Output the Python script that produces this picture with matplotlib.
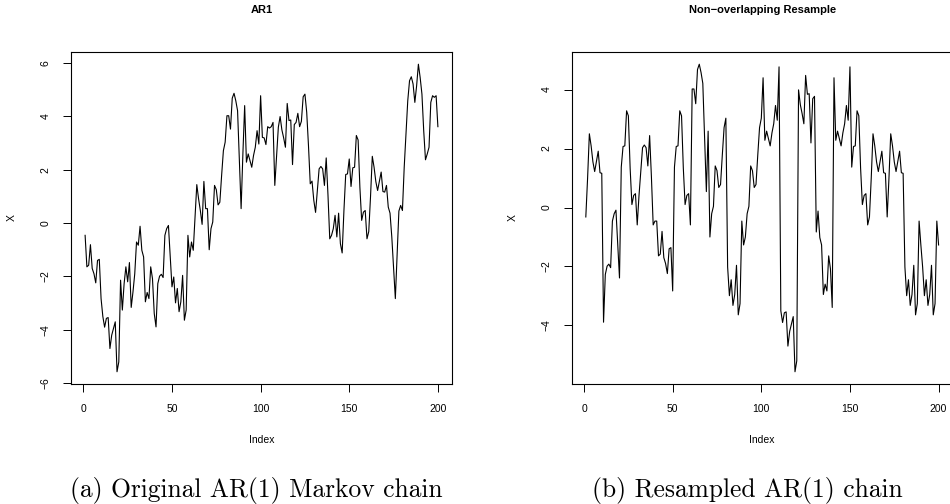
import numpy as np
import matplotlib
matplotlib.use("Agg")
import matplotlib.pyplot as plt

# AR(1) chain
ar1 = [
    -0.46, -1.64, -1.58, -0.81, -1.70, -1.90, -2.24, -1.40, -1.36, -2.83,
    -3.50, -3.90, -3.57, -3.54, -4.70, -4.20, -3.95, -3.70, -5.57, -5.20,
    -2.14, -3.26, -2.27, -1.64, -2.20, -1.48, -3.16, -2.58, -1.90, -0.71,
    -0.83, -0.12, -1.02, -1.27, -2.95, -2.60, -2.83, -1.64, -2.08, -3.39,
    -3.89, -2.27, -1.99, -1.92, -2.04, -0.46, -0.21, -0.09, -1.27, -2.39,
    -2.02, -2.99, -2.45, -3.32, -2.95, -1.96, -3.64, -3.26, -0.46, -1.27,
    -0.71, -1.02, 0.22, 1.44, 0.91, 0.47, -0.05, 1.56, 0.54, 0.54,
    -1.00, -0.21, 0.04, 1.41, 1.25, 0.68, 0.78, 1.78, 2.71, 3.03,
    4.02, 4.02, 3.52, 4.68, 4.86, 4.58, 4.21, 2.34, 0.54, 2.59,
    4.40, 2.28, 2.59, 2.34, 2.09, 2.53, 2.84, 3.46, 2.96, 4.77,
    3.21, 3.19, 2.94, 3.61, 3.56, 3.61, 3.77, 1.41, 2.53, 3.59,
    3.99, 3.49, 3.19, 2.84, 4.48, 3.84, 3.86, 2.19, 3.69, 3.77,
    4.11, 3.61, 3.81, 4.73, 4.83, 4.15, 2.90, 1.47, 1.57, 0.85,
    0.40, 1.22, 2.03, 2.12, 2.03, 1.41, 2.44, 1.05, -0.59, -0.46,
    -0.21, 0.29, -0.52, 0.37, -0.77, -1.12, 0.47, 1.82, 1.84, 2.40,
    1.37, 2.07, 2.09, 3.28, 3.11, 1.34, 0.10, 0.41, 0.47, -0.59,
    -0.32, 0.99, 2.50, 2.09, 1.55, 1.22, 1.56, 1.91, 1.18, 1.16,
    1.41, 0.60, 0.37, -0.52, -1.64, -2.83, -1.15, 0.45, 0.66, 0.47,
    2.09, 3.34, 4.58, 5.33, 5.48, 5.21, 4.52, 5.14, 5.95, 5.45,
    4.83, 3.46, 2.37, 2.59, 2.84, 4.52, 4.77, 4.71, 4.77, 3.61,
]

# non-overlapping block resample
resample = [
    -0.32, 0.99, 2.50, 2.09, 1.55, 1.22, 1.56, 1.91, 1.18, 1.16,
    -3.89, -2.27, -1.99, -1.92, -2.04, -0.46, -0.21, -0.09, -1.27, -2.39,
    1.37, 2.07, 2.09, 3.28, 3.11, 1.34, 0.10, 0.41, 0.47, -0.59,
    0.40, 1.22, 2.03, 2.12, 2.03, 1.41, 2.44, 1.05, -0.59, -0.46,
    -0.46, -1.64, -1.58, -0.81, -1.70, -1.90, -2.24, -1.40, -1.36, -2.83,
    1.37, 2.07, 2.09, 3.28, 3.11, 1.34, 0.10, 0.41, 0.47, -0.59,
    4.02, 4.02, 3.52, 4.68, 4.86, 4.58, 4.21, 2.34, 0.54, 2.59,
    -1.00, -0.21, 0.04, 1.41, 1.25, 0.68, 0.78, 1.78, 2.71, 3.03,
    -2.02, -2.99, -2.45, -3.32, -2.95, -1.96, -3.64, -3.26, -0.46, -1.27,
    -1.00, -0.21, 0.04, 1.41, 1.25, 0.68, 0.78, 1.78, 2.71, 3.03,
    4.40, 2.28, 2.59, 2.34, 2.09, 2.53, 2.84, 3.46, 2.96, 4.77,
    -3.50, -3.90, -3.57, -3.54, -4.70, -4.20, -3.95, -3.70, -5.57, -5.20,
    3.99, 3.49, 3.19, 2.84, 4.48, 3.84, 3.86, 2.19, 3.69, 3.77,
    -0.83, -0.12, -1.02, -1.27, -2.95, -2.60, -2.83, -1.64, -2.08, -3.39,
    4.40, 2.28, 2.59, 2.34, 2.09, 2.53, 2.84, 3.46, 2.96, 4.77,
    1.37, 2.07, 2.09, 3.28, 3.11, 1.34, 0.10, 0.41, 0.47, -0.59,
    -0.32, 0.99, 2.50, 2.09, 1.55, 1.22, 1.56, 1.91, 1.18, 1.16,
    -0.32, 0.99, 2.50, 2.09, 1.55, 1.22, 1.56, 1.91, 1.18, 1.16,
    -2.02, -2.99, -2.45, -3.32, -2.95, -1.96, -3.64, -3.26, -0.46, -1.27,
    -2.02, -2.99, -2.45, -3.32, -2.95, -1.96, -3.64, -3.26, -0.46, -1.27,
]

titles = ["AR1", "Non\u2212overlapping Resample"]
captions = ["(a) Original AR(1) Markov chain", "(b) Resampled AR(1) chain"]
x_ticks = [0, 50, 100, 150, 200]
y_ticks = [[-6, -4, -2, 0, 2, 4, 6], [-4, -2, 0, 2, 4]]

plt.rcParams["font.family"] = ["Liberation Sans", "DejaVu Sans"]

W, H = 950, 504
fig = plt.figure(figsize=(W / 100, H / 100), dpi=100)
lefts = [71 / W, 571.7 / W]

for k, series in enumerate([ar1, resample]):
    y = np.array(series)
    idx = np.arange(1, len(y) + 1)
    ax = fig.add_axes([lefts[k], 0.238, 381 / W, 0.659])
    ax.plot(idx, y, color="black", lw=0.8)

    # R style 4% padding
    xr = idx.max() - idx.min()
    ax.set_xlim(idx.min() - 0.04 * xr, idx.max() + 0.04 * xr)
    yr = y.max() - y.min()
    ax.set_ylim(y.min() - 0.04 * yr, y.max() + 0.04 * yr)

    ax.set_xticks(x_ticks)
    ax.set_yticks(y_ticks[k])
    ax.tick_params(direction="out", length=5.5, width=0.7, labelsize=7.5, pad=9)
    for lbl in ax.get_yticklabels():
        lbl.set_rotation(90)
        lbl.set_va("center")
    for s in ax.spines.values():
        s.set_linewidth(0.8)

    ax.set_title(titles[k], fontsize=8, fontweight="bold", pad=28)
    ax.set_xlabel("Index", fontsize=7.5, labelpad=15)
    ax.set_ylabel("X", fontsize=7.5, labelpad=17)

# captions under each panel, LaTeX-like serif; size them to the reference width
cap_a = fig.text(443 / W, 7 / H, captions[0], ha="right", va="baseline",
                 fontsize=14, family="cmr10")
cap_b = fig.text(592 / W, 7 / H, captions[1], ha="left", va="baseline",
                 fontsize=14, family="cmr10")
fig.canvas.draw()
wb = cap_b.get_window_extent().width
fs = 14 * 310 / wb
cap_a.set_fontsize(fs)
cap_b.set_fontsize(fs)

fig.savefig("out.png", dpi=100)
